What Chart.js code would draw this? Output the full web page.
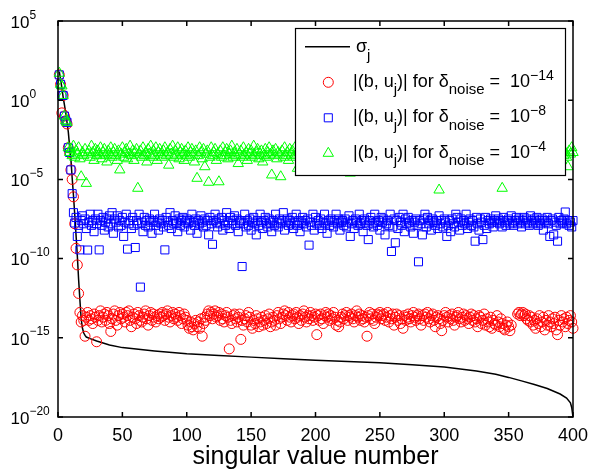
<!DOCTYPE html>
<html>
<head>
<meta charset="utf-8">
<script src="https://cdn.jsdelivr.net/npm/chart.js@4.4.1/dist/chart.umd.min.js"></script>
<style>
  html, body { margin: 0; padding: 0; background: #fff; }
  #wrap { width: 591px; height: 469px; }
</style>
</head>
<body>
<div id="wrap"><canvas id="svdChart" width="591" height="469"></canvas></div>
<script>
// axis ticks
const xTicks = [0, 50, 100, 150, 200, 250, 300, 350, 400];
const yTickExps = [5, 0, -5, -10, -15, -20];
const xTitle = "singular value number";

// singular values sigma_j (log10), sampled along the curve
const sigmaIdx = [1, 2, 3, 4, 5, 6, 7, 8, 9, 10, 11, 12, 13, 14, 15, 16, 17, 18, 19, 20, 21, 22,
  25, 30, 40, 50, 75, 100, 125, 150, 175, 200, 225, 250, 275, 300, 325, 340, 350, 360, 370, 380,
  390, 395, 398, 399, 400];
const sigmaLog = [1.8, 1.3, 0.8, 0.2, -0.3, -0.8, -1.4, -2.0, -2.9, -3.7, -4.9, -6.0, -7.2, -8.5,
  -9.8, -11.3, -12.6, -13.8, -14.4, -14.7, -14.85, -14.95,
  -15.05, -15.2, -15.45, -15.62, -15.83, -16.0, -16.12, -16.22, -16.32, -16.42, -16.5, -16.58,
  -16.7, -16.85, -17.1, -17.3, -17.5, -17.72, -17.95, -18.2, -18.55, -18.8, -19.1, -19.4, -20];

// |(b, u_j)| for noise 1e-14, j = 1..400 (log10, null = no marker)
const coefNoise14 = [
  1.6, 1.0, -0.8, 0.3, -1.0, -1.3, -1.5, -3.0, -3.3, -4.4, -5.0, -6.1, -7.8, -9.35, -10.4, -12.2, -13.4, -14.0, -13.6, -13.9,
  -14.9, -13.7, -13.4, -13.9, -13.6, -13.8, -14.1, -13.5, -13.7, -15.25, -13.9, -13.6, -13.3, -14.0, -13.7, -13.5, -13.9, -13.4, -13.6, -14.1,
  -14.6, -13.8, -13.5, -13.3, -13.9, -14.2, -13.6, -13.4, -13.8, -13.5, -13.7, -14.0, -13.4, -13.6, -13.3, -13.9, -14.3, -13.7, -13.5, -13.8,
  -14.1, -13.4, -13.6, -13.9, -14.0, -13.7, -13.5, -13.3, -13.8, -14.2, -13.6, -13.4, -13.9, -13.5, -13.7, -14.0, -13.6, -13.8, -13.5, -13.7,
  -13.4, -13.6, -13.9, -13.5, -13.3, -13.7, -14.0, -13.6, -13.4, -13.8, -13.5, -13.7, -13.9, -13.4, -13.6, -14.1, -13.8, -13.5, -13.7, -13.9,
  -14.2, -14.4, -14.0, -14.3, -14.5, -14.1, -13.9, -14.3, -14.0, -14.4, -13.8, -14.9, -14.1, -13.7, -13.9, -13.5, -13.3, -13.6, -13.4, -13.8,
  -13.5, -13.3, -13.7, -13.6, -13.4, -13.9, -13.5, -13.8, -14.0, -13.6, -13.4, -13.7, -15.7, -13.9, -14.1, -13.6, -13.5, -13.8, -14.0, -13.7,
  -13.5, -15.1, -13.9, -14.2, -13.8, -13.6, -14.0, -13.4, -13.7, -14.2, -14.4, -13.9, -14.1, -13.6, -13.8, -14.3, -14.0, -13.7, -14.2, -13.9,
  -13.6, -14.1, -13.8, -13.5, -14.3, -14.0, -13.7, -13.9, -14.2, -13.6, -13.4, -13.8, -14.1, -13.7, -13.5, -13.3, -13.6, -13.9, -13.4, -13.7,
  -14.0, -13.6, -13.5, -13.8, -13.4, -13.7, -14.1, -13.6, -13.9, -13.5, -13.3, -13.7, -14.0, -13.6, -13.8, -13.4, -13.6, -13.9, -13.7, -13.5,
  -14.8, -13.6, -13.9, -13.5, -13.8, -14.1, -13.6, -13.4, -13.7, -13.5, -13.9, -13.6, -13.8, -13.4, -13.7, -14.2, -13.9, -14.3, -14.0, -13.7,
  -13.5, -13.8, -13.6, -13.4, -13.9, -13.6, -13.7, -13.5, -13.8, -14.0, -13.6, -13.3, -13.7, -13.5, -13.9, -13.6, -13.8, -14.0, -13.7, -14.9,
  -13.6, -13.4, -13.8, -13.5, -13.9, -14.1, -13.7, -13.5, -13.6, -13.4, -13.8, -13.6, -13.5, -13.9, -13.7, -13.4, -14.0, -13.6, -13.8, -13.5,
  -14.2, -13.7, -13.5, -13.9, -13.6, -14.1, -13.8, -14.4, -13.6, -13.9, -13.7, -13.5, -13.8, -14.0, -13.6, -13.4, -13.7, -13.9, -13.6, -13.5,
  -13.8, -14.2, -13.6, -13.9, -13.5, -13.7, -13.4, -13.8, -14.0, -13.6, -13.5, -13.9, -14.3, -13.7, -13.6, -13.8, -14.1, -14.55, -13.9, -13.6,
  -13.4, -13.7, -14.0, -13.6, -13.8, -13.5, -13.9, -14.2, -13.7, -13.6, -13.4, -13.8, -14.0, -13.7, -13.5, -13.9, -13.6, -13.8, -14.1, -13.7,
  -13.5, -13.9, -13.6, -14.0, -13.8, -14.3, -13.6, -13.7, -14.1, -13.9, -13.5, -14.2, -13.8, -14.0, -14.3, -13.7, -14.4, -13.9, -14.1, -14.2,
  -13.6, -14.0, -14.3, -13.8, -14.1, -14.4, -14.5, -14.2, -14.0, -14.3, -14.55, -14.2, null, null, null, null, -13.5, -13.4, -13.6, -13.5,
  -13.4, -13.6, -13.5, -13.8, -13.9, -13.6, -14.0, -13.7, -14.2, -13.9, -14.4, -13.8, -14.1, -13.6, -14.3, -14.0, -13.7, -14.5, -13.9, -14.2,
  -13.6, -14.0, -14.3, -13.8, -14.1, -13.7, -14.5, -14.8, -13.9, -14.2, -13.6, -14.0, -13.8, -14.3, -13.7, -14.1, -13.9, -13.6, -14.0, -14.4
];

// |(b, u_j)| for noise 1e-8
const coefNoise8 = [
  1.6, 1.0, 0.3, 0.3, -1.0, -1.3, -1.4, -3.0, -3.3, -4.4, -5.9, -7.1, -7.75, -7.4, -8.6, -7.9, -9.45, -7.6, -7.3, -7.8,
  -7.5, -8.1, -9.46, -7.7, -7.2, -7.9, -7.6, -8.3, -7.5, -7.8, -7.2, -9.45, -7.6, -7.9, -7.4, -8.2, -7.7, -7.5, -8.0, -7.3,
  -7.8, -7.1, -8.4, -7.5, -7.7, -7.3, -8.0, -7.6, -7.9, -7.4, -8.6, -7.7, -7.2, -9.4, -7.8, -7.6, -8.1, -7.4, -7.9, -9.3,
  -7.6, -7.8, -7.2, -11.8, -7.7, -8.3, -7.4, -7.9, -7.6, -8.0, -7.5, -7.7, -8.4, -7.6, -7.2, -7.9, -7.7, -8.2, -7.5, -7.8,
  -7.6, -8.0, -9.45, -7.4, -7.7, -7.9, -7.1, -8.1, -7.6, -7.8, -7.3, -7.7, -8.3, -7.5, -7.9, -7.6, -7.4, -8.0, -7.7, -7.5,
  -7.8, -7.6, -8.2, -7.2, -7.7, -7.9, -7.5, -8.4, -7.6, -7.8, -7.3, -7.7, -8.0, -7.5, -7.9, -7.6, -8.5, -7.4, -7.8, -9.1,
  -7.6, -7.2, -7.7, -8.0, -7.5, -7.8, -7.4, -8.2, -7.6, -7.9, -7.1, -7.7, -8.1, -7.4, -7.8, -7.6, -7.3, -7.9, -7.5, -8.3,
  -7.7, -7.6, -10.5, -7.8, -7.2, -8.0, -7.6, -7.9, -7.5, -8.2, -7.7, -7.4, -7.8, -8.5, -7.6, -7.9, -7.2, -7.7, -8.1, -7.6,
  -7.4, -7.8, -8.0, -7.5, -7.7, -8.3, -7.6, -7.9, -7.2, -7.7, -8.0, -7.5, -7.8, -7.6, -7.1, -8.2, -7.7, -7.5, -7.9, -7.6,
  -7.8, -7.4, -8.1, -7.7, -7.2, -7.9, -7.6, -8.3, -7.7, -7.4, -7.8, -7.6, -8.0, -7.5, -9.15, -7.7, -7.9, -7.2, -8.2, -7.4,
  -7.8, -7.6, -7.9, -7.5, -8.1, -7.7, -7.2, -7.8, -8.4, -7.6, -7.9, -7.5, -7.7, -8.0, -7.6, -7.2, -7.8, -7.5, -8.2, -7.7,
  -7.6, -7.9, -7.5, -8.0, -7.7, -7.3, -8.6, -7.8, -7.6, -8.1, -7.5, -7.7, -7.9, -7.2, -7.8, -7.6, -8.3, -7.5, -7.7, -7.9,
  -8.8, -7.6, -7.4, -7.8, -8.0, -7.2, -7.7, -7.9, -7.6, -8.2, -7.4, -7.7, -7.5, -8.5, -7.8, -7.6, -7.9, -7.2, -9.55, -8.0,
  -7.5, -9.0, -7.6, -8.1, -7.4, -7.7, -7.9, -7.2, -8.3, -7.5, -7.8, -7.4, -7.7, -8.0, -7.6, -8.4, -7.7, -7.5, -7.9, -10.2,
  -7.6, -7.8, -8.5, -7.5, -7.2, -8.0, -7.4, -7.8, -7.6, -8.2, -7.5, -7.7, -7.9, -7.6, -8.1, -7.3, -7.8, -7.6, -8.0, -7.5,
  -7.7, -8.6, -7.9, -7.6, -8.3, -7.5, -7.8, -8.0, -7.2, -7.4, -7.7, -8.2, -7.5, -7.9, -7.6, -7.8, -7.2, -8.1, -7.7, -7.5,
  -7.9, -7.6, -8.0, -8.9, -7.4, -7.8, -8.2, -7.5, -7.7, -8.8, -7.9, -7.4, -8.1, -7.6, -7.8, -7.5, -7.7, -8.0, -7.6, -7.3,
  -7.7, -7.5, -7.8, -7.6, -8.0, -7.4, -7.7, -7.9, -7.6, -7.5, -7.8, -7.3, -7.7, -7.9, -7.6, -7.4, -7.8, -7.5, -7.7, -8.0,
  -7.6, -7.4, -7.8, -7.5, -7.7, -7.9, -7.3, -7.6, -7.8, -7.5, -7.7, -7.4, -7.9, -7.6, -7.8, -7.5, -8.2, -7.6, -7.7, -7.4,
  -7.8, -8.6, -7.6, -7.5, -8.5, -7.7, -7.9, -8.9, -7.4, -7.8, -7.6, -7.7, -7.5, -7.06, -7.8, -7.6, -7.9, -7.7, -8.0, -7.6
];

// |(b, u_j)| for noise 1e-4
const coefNoise4 = [
  1.7, 1.0, 0.9, 0.3, -1.0, -1.3, -1.4, -3.0, -3.3, -3.1, -3.5, -2.9, -3.6, -3.2, -3.4, -3.0, -3.7, -4.83, -3.3, -3.5,
  -3.1, -5.25, -3.4, -3.2, -3.6, -2.9, -3.3, -3.8, -3.1, -3.5, -3.2, -3.4, -3.0, -3.7, -3.3, -3.1, -3.5, -3.9, -3.2, -3.4,
  -3.0, -3.6, -3.3, -3.1, -3.5, -3.8, -3.2, -4.4, -3.4, -3.0, -3.6, -3.3, -3.1, -3.7, -3.4, -2.9, -3.5, -3.2, -3.8, -3.3,
  -3.1, -5.56, -3.4, -3.2, -3.6, -3.0, -3.5, -3.3, -3.9, -3.1, -3.4, -2.9, -3.6, -3.2, -3.5, -3.0, -3.8, -3.3, -3.1, -3.4,
  -3.6, -3.2, -3.0, -3.5, -3.3, -4.1, -3.1, -3.4, -2.9, -3.6, -3.2, -3.5, -3.0, -3.7, -3.3, -3.1, -3.4, -3.8, -3.2, -3.5,
  -3.0, -3.6, -3.3, -3.1, -3.4, -3.9, -3.2, -4.93, -3.5, -3.0, -3.3, -3.7, -3.1, -4.2, -3.4, -3.2, -5.18, -3.6, -3.0, -3.5,
  -3.3, -3.1, -3.8, -3.4, -5.15, -3.2, -3.6, -3.0, -3.5, -3.3, -3.1, -3.7, -3.4, -3.2, -2.9, -3.6, -3.3, -3.5, -3.1, -4.0,
  -3.4, -3.2, -3.6, -3.0, -3.5, -3.3, -3.8, -3.1, -3.4, -3.2, -3.6, -2.9, -3.5, -3.3, -3.1, -3.7, -3.4, -3.2, -3.9, -3.5,
  -3.1, -3.6, -3.3, -3.0, -3.4, -4.72, -3.2, -3.5, -3.1, -3.7, -3.3, -3.4, -4.83, -3.2, -3.6, -3.0, -3.5, -3.3, -3.8, -3.1,
  -3.4, -3.2, -3.6, -3.0, -3.5, -4.3, -3.3, -3.1, -3.4, -3.7, -3.2, -3.5, -3.0, -3.6, -3.3, -3.1, -3.8, -3.4, -3.2, -3.5,
  -3.1, -3.6, -3.3, -4.5, -3.4, -3.2, -3.7, -3.0, -3.5, -3.3, -3.9, -3.1, -3.4, -3.6, -3.2, -3.5, -4.2, -3.3, -3.1, -3.6,
  -3.4, -3.2, -3.8, -3.5, -3.1, -3.3, -4.6, -3.6, -3.2, -3.4, -3.0, -3.7, -3.5, -3.3, -4.1, -3.2, -3.6, -3.4, -3.1, -3.9,
  -3.5, -3.3, -3.2, -3.6, -4.4, -3.4, -3.1, -3.7, -3.5, -3.3, -3.2, -4.0, -3.6, -3.4, -3.1, -3.5, -3.8, -3.3, -3.2, -3.6,
  -3.4, -4.3, -3.5, -3.1, -3.7, -3.3, -3.2, -3.9, -3.6, -3.4, -3.1, -3.5, -4.2, -3.3, -3.6, -3.2, -3.8, -3.4, -3.1, -3.7,
  -3.5, -3.3, -4.0, -3.2, -3.6, -3.4, -3.1, -4.4, -3.5, -3.3, -3.7, -3.2, -3.6, -3.4, -3.8, -5.67, -3.3, -3.5, -3.1, -3.9,
  -3.4, -3.2, -3.6, -4.1, -3.3, -3.5, -3.1, -3.7, -3.4, -3.2, -3.9, -3.6, -3.3, -3.5, -4.3, -3.2, -3.4, -3.7, -3.1, -3.5,
  -3.3, -3.8, -3.4, -3.2, -3.6, -4.0, -3.5, -3.1, -3.7, -3.3, -3.4, -4.2, -3.6, -3.2, -3.5, -3.3, -3.9, -3.4, -3.1, -3.6,
  -3.5, -3.3, -3.8, -3.4, -5.56, -3.2, -3.6, -3.1, -3.5, -4.1, -3.3, -3.4, -3.7, -3.2, -3.6, -3.0, -3.5, -3.3, -4.3, -3.4,
  -3.2, -3.6, -3.1, -3.5, -3.8, -3.3, -3.4, -3.2, -4.0, -3.6, -3.1, -3.5, -3.3, -3.7, -3.4, -3.2, -3.6, -3.9, -3.3, -3.5,
  -3.1, -3.7, -3.4, -3.2, -4.1, -3.5, -3.3, -3.6, -3.2, -3.4, -3.8, -3.1, -3.5, -3.3, -3.6, -4.2, -3.2, -3.4, -3.0, -3.3
];

// legend exponents for the three noise levels
const noiseExps = ["\u221214", "\u22128", "\u22124"];

const FONT = '"Liberation Sans", Arial, Helvetica, sans-serif';

const logPoints = (logs, idx) =>
  logs.map((v, i) => (v === null ? null : { x: idx ? idx[i] : i + 1, y: Math.pow(10, v) }))
      .filter(p => p !== null);

// draw text pieces one after another: [text, fontSize, baselineShift]
function drawPieces(ctx, pieces, x, y) {
  for (const [text, size, dy] of pieces) {
    ctx.font = size + "px " + FONT;
    ctx.fillText(text, x, y + dy);
    x += ctx.measureText(text).width;
  }
  return x;
}

// legend markers, same geometry as Chart.js point styles
function drawMarker(ctx, style, x, y, r) {
  ctx.beginPath();
  if (style === "circle") {
    ctx.arc(x, y, r, 0, Math.PI * 2);
  } else if (style === "rect") {
    const s = r * Math.SQRT1_2;
    ctx.rect(x - s, y - s, 2 * s, 2 * s);
  } else {
    const h = r * Math.sin(Math.PI / 3);
    ctx.moveTo(x, y - r);
    ctx.lineTo(x + h, y + r / 2);
    ctx.lineTo(x - h, y + r / 2);
    ctx.closePath();
  }
  ctx.stroke();
}

const frame = {
  id: "frame",
  afterDraw(chart) {
    const { ctx, chartArea: a } = chart;
    const xs = chart.scales.x, ys = chart.scales.y;
    ctx.save();

    // legend box inside the axes
    const lx = 295, ly = 28, lw = 270, lh = 147;
    ctx.fillStyle = "#fff";
    ctx.fillRect(lx, ly, lw, lh);
    ctx.strokeStyle = "#000";
    ctx.lineWidth = 1.2;
    ctx.strokeRect(lx + 0.5, ly + 0.5, lw, lh);

    ctx.fillStyle = "#000";
    ctx.textAlign = "left";
    ctx.textBaseline = "alphabetic";
    ctx.lineWidth = 1.5;
    ctx.beginPath();
    ctx.moveTo(305, 46.7);
    ctx.lineTo(350, 46.7);
    ctx.stroke();
    drawPieces(ctx, [["\u03c3", 18, 0], ["j", 15, 8]], 356, 52);

    const marks = [["circle", "#ff0000", 5], ["rect", "#0000ff", 5.7], ["triangle", "#00ff00", 6]];
    marks.forEach(([style, color, r], i) => {
      const my = 82.3 + i * 35.5;
      ctx.strokeStyle = color;
      ctx.lineWidth = 1;
      drawMarker(ctx, style, 328.3, my, r);
      ctx.fillStyle = "#000";
      drawPieces(ctx, [
        ["|(b, u", 18, 0], ["j", 15, 7.5], [")| for \u03b4", 18, 0], ["noise", 15, 7.5],
        [" =  10", 18, 0], [noiseExps[i], 14, -7]
      ], 353, my + 4.5);
    });

    // axes box and inward ticks
    ctx.strokeStyle = "#000";
    ctx.lineWidth = 1.5;
    ctx.strokeRect(a.left, a.top, a.right - a.left, a.bottom - a.top);
    ctx.beginPath();
    xTicks.forEach(v => {
      const px = xs.getPixelForValue(v);
      ctx.moveTo(px, a.bottom); ctx.lineTo(px, a.bottom - 5);
      ctx.moveTo(px, a.top); ctx.lineTo(px, a.top + 5);
    });
    yTickExps.forEach(e => {
      const py = ys.getPixelForValue(Math.pow(10, e));
      ctx.moveTo(a.left, py); ctx.lineTo(a.left + 5, py);
      ctx.moveTo(a.right, py); ctx.lineTo(a.right - 5, py);
    });
    ctx.stroke();

    // tick labels
    ctx.fillStyle = "#000";
    ctx.font = "18px " + FONT;
    ctx.textAlign = "center";
    xTicks.forEach(v => ctx.fillText(String(v), xs.getPixelForValue(v), 440.5));
    ctx.textAlign = "left";
    yTickExps.forEach(e => {
      const py = ys.getPixelForValue(Math.pow(10, e));
      const exp = e < 0 ? "\u2212" + Math.abs(e) : String(e);
      drawPieces(ctx, [["10", 17, 6.7], [exp, 12, -2.5]], 10.5, py);
    });

    ctx.font = "25px " + FONT;
    ctx.textAlign = "center";
    ctx.fillText(xTitle, (a.left + a.right) / 2, 464);
    ctx.restore();
  }
};

const markerSet = (data, style, color, r, order) => ({
  data, pointStyle: style, pointRadius: r, borderColor: color, pointBorderColor: color,
  pointBackgroundColor: "rgba(0,0,0,0)", backgroundColor: "rgba(0,0,0,0)",
  pointBorderWidth: 1, showLine: false, clip: false, order
});

new Chart(document.getElementById("svdChart"), {
  type: "scatter",
  data: {
    datasets: [
      { data: logPoints(sigmaLog, sigmaIdx), showLine: true, borderColor: "#000", borderWidth: 1.5,
        pointRadius: 0, tension: 0, order: 3 },
      markerSet(logPoints(coefNoise14), "circle", "#ff0000", 5, 2),
      markerSet(logPoints(coefNoise8), "rect", "#0000ff", 5.7, 1),
      markerSet(logPoints(coefNoise4), "triangle", "#00ff00", 6, 0)
    ]
  },
  options: {
    responsive: false,
    animation: false,
    events: [],
    layout: { padding: { left: 58, right: 18, top: 21, bottom: 52 } },
    scales: {
      x: { type: "linear", min: 0, max: 400, display: false },
      y: { type: "logarithmic", min: 1e-20, max: 1e5, display: false }
    },
    plugins: { legend: { display: false }, tooltip: { enabled: false } }
  },
  plugins: [frame]
});
</script>
</body>
</html>
